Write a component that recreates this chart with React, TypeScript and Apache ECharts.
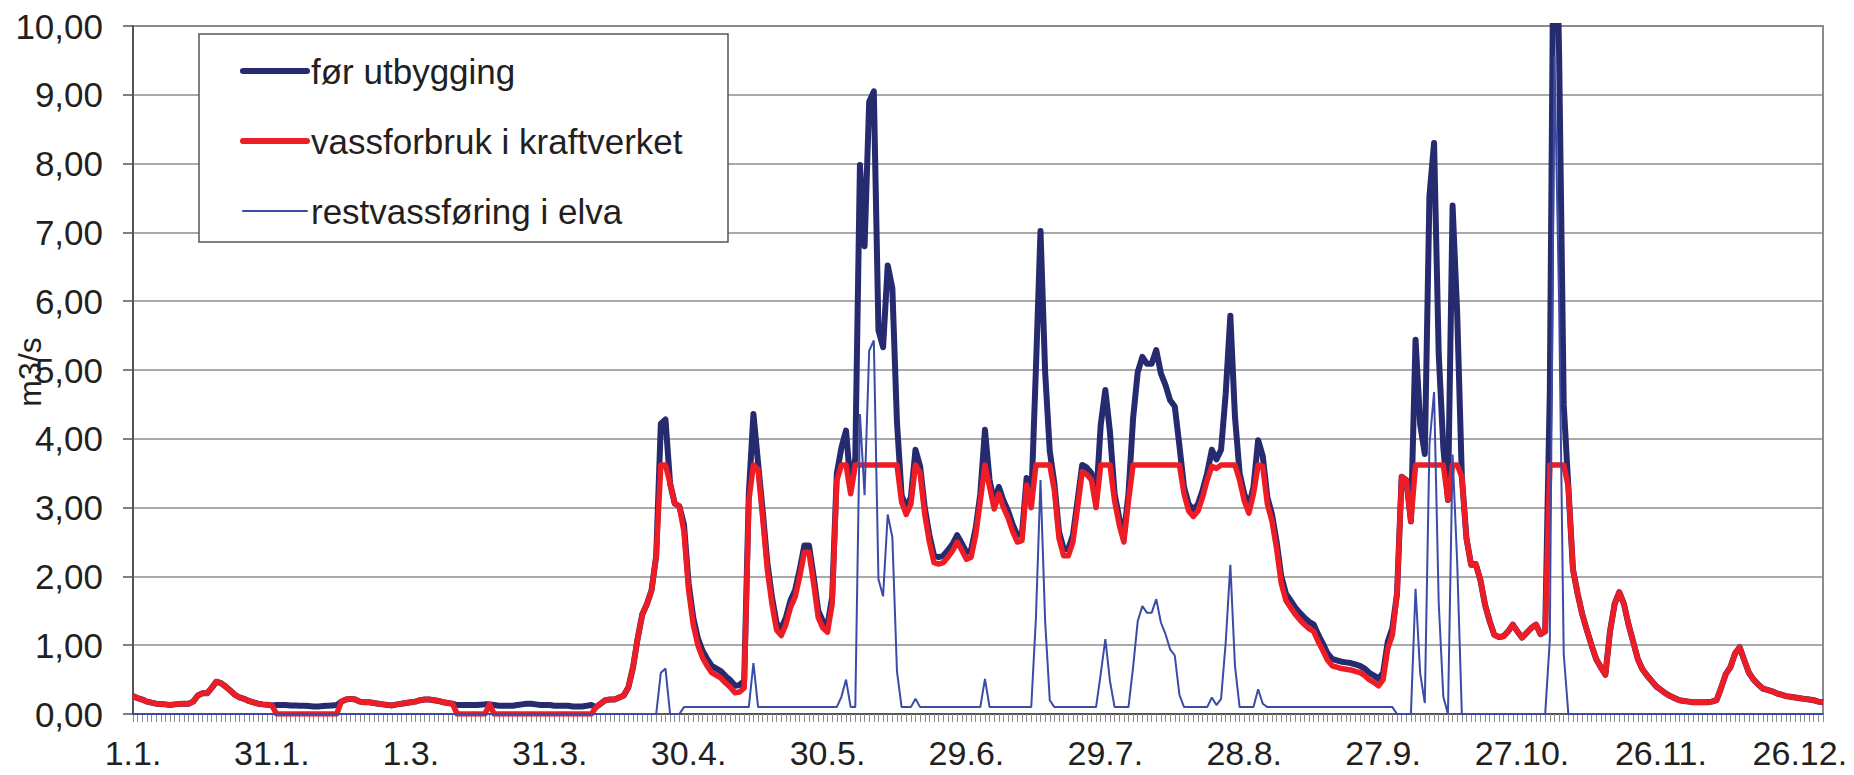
import React, { useEffect, useRef } from "react";
import * as echarts from "echarts";

// Leap-year day labels (1.1. ... 31.12.)
const monthLengths = [31, 29, 31, 30, 31, 30, 31, 31, 30, 31, 30, 31];
const dayLabels: string[] = [];
monthLengths.forEach((n, m) => {
  for (let d = 1; d <= n; d++) dayLabels.push(`${d}.${m + 1}.`);
});

const seriesNames = ["før utbygging", "vassforbruk i kraftverket", "restvassføring i elva"];
const yAxisTitle = "m3/s";
const yTicks = [0, 1, 2, 3, 4, 5, 6, 7, 8, 9, 10];

const forUtbygging = [
  0.26, 0.23, 0.21, 0.18, 0.165, 0.15, 0.145, 0.14, 0.13, 0.14,
  0.145, 0.15, 0.15, 0.18, 0.27, 0.3, 0.3, 0.38, 0.47, 0.45,
  0.4, 0.34, 0.28, 0.24, 0.22, 0.19, 0.17, 0.15, 0.14, 0.135,
  0.125, 0.13, 0.13, 0.13, 0.125, 0.125, 0.12, 0.12, 0.115, 0.11,
  0.11, 0.115, 0.12, 0.125, 0.13, 0.18, 0.21, 0.22, 0.21, 0.18,
  0.17, 0.17, 0.16, 0.15, 0.14, 0.13, 0.125, 0.14, 0.15, 0.16,
  0.17, 0.18, 0.2, 0.21, 0.21, 0.2, 0.19, 0.17, 0.16, 0.15,
  0.13, 0.13, 0.13, 0.13, 0.13, 0.135, 0.14, 0.14, 0.13, 0.12,
  0.12, 0.12, 0.12, 0.13, 0.14, 0.15, 0.15, 0.14, 0.13, 0.13,
  0.13, 0.12, 0.12, 0.12, 0.12, 0.11, 0.11, 0.11, 0.12, 0.13,
  0.1, 0.15, 0.2, 0.21, 0.21, 0.24, 0.27, 0.39, 0.68, 1.1,
  1.45, 1.6, 1.8, 2.3, 4.22, 4.28, 3.35, 3.06, 3.02, 2.75,
  1.9, 1.4, 1.1, 0.92, 0.8, 0.7, 0.66, 0.62, 0.55, 0.49,
  0.41, 0.42, 0.48, 3.2, 4.36, 3.65, 2.95, 2.2, 1.7, 1.32,
  1.24, 1.4, 1.65, 1.8, 2.1, 2.45, 2.45, 2.0, 1.5, 1.35,
  1.29, 1.7, 3.49, 3.87, 4.12, 3.3, 3.72, 7.98, 6.8, 8.9,
  9.05, 5.58, 5.33, 6.52, 6.19, 4.24, 3.18, 3.0, 3.15, 3.84,
  3.6, 3.0, 2.6, 2.3, 2.28, 2.3, 2.38, 2.47, 2.6, 2.48,
  2.35, 2.38, 2.7, 3.2, 4.13, 3.4, 3.08, 3.3, 3.1, 2.95,
  2.75, 2.6, 2.62, 3.43, 3.1, 5.0, 7.02, 4.97, 3.82, 3.35,
  2.65, 2.4, 2.4, 2.6, 3.1, 3.62, 3.58, 3.5, 3.1, 4.2,
  4.71, 4.1, 3.2, 2.85, 2.6, 3.2, 4.3, 4.97, 5.19, 5.09,
  5.09, 5.29, 4.95, 4.78, 4.56, 4.47, 3.9, 3.3, 3.05, 2.97,
  3.05, 3.25, 3.5, 3.84, 3.7, 3.84, 4.66, 5.79, 4.32, 3.5,
  3.2, 3.02, 3.3, 3.98, 3.75, 3.15, 2.9, 2.5, 2.0, 1.75,
  1.65, 1.55, 1.47, 1.4, 1.34, 1.3, 1.15, 1.02, 0.88, 0.8,
  0.78, 0.76, 0.75, 0.74, 0.72, 0.7, 0.66, 0.6, 0.56, 0.51,
  0.6, 1.05, 1.25, 1.75, 3.45, 3.4, 2.8, 5.44, 4.21, 3.78,
  7.53, 8.3, 5.24, 3.87, 3.11, 7.39, 5.81, 3.45, 2.55, 2.17,
  2.18, 1.95, 1.59, 1.35, 1.15, 1.12, 1.13, 1.2, 1.3, 1.2,
  1.11, 1.18, 1.25, 1.3, 1.16, 1.2, 4.7, 13.2, 9.6, 4.5,
  3.3, 2.1, 1.75, 1.45, 1.22, 1.0, 0.8, 0.68, 0.57, 1.2,
  1.6, 1.77, 1.6, 1.3, 1.05, 0.8, 0.65, 0.56, 0.48, 0.4,
  0.35, 0.3, 0.26, 0.23, 0.2, 0.19, 0.18, 0.17, 0.17, 0.17,
  0.17, 0.18, 0.2, 0.38, 0.58, 0.68, 0.88, 0.97, 0.78, 0.6,
  0.5, 0.43, 0.37, 0.35, 0.33, 0.3, 0.28, 0.26, 0.25, 0.24,
  0.23, 0.22, 0.21, 0.2, 0.18, 0.17,
];

const vassforbruk = [
  0.26, 0.23, 0.21, 0.18, 0.165, 0.15, 0.145, 0.14, 0.13, 0.14,
  0.145, 0.15, 0.15, 0.18, 0.27, 0.3, 0.3, 0.38, 0.47, 0.45,
  0.4, 0.34, 0.28, 0.24, 0.22, 0.19, 0.17, 0.15, 0.14, 0.135,
  0.125, 0, 0, 0, 0, 0, 0, 0, 0, 0,
  0, 0, 0, 0, 0, 0.18, 0.21, 0.22, 0.21, 0.18,
  0.17, 0.17, 0.16, 0.15, 0.14, 0.13, 0.125, 0.14, 0.15, 0.16,
  0.17, 0.18, 0.2, 0.21, 0.21, 0.2, 0.19, 0.17, 0.16, 0.15,
  0, 0, 0, 0, 0, 0, 0, 0.14, 0, 0,
  0, 0, 0, 0, 0, 0, 0, 0, 0, 0,
  0, 0, 0, 0, 0, 0, 0, 0, 0, 0,
  0.1, 0.15, 0.2, 0.21, 0.21, 0.24, 0.27, 0.39, 0.68, 1.1,
  1.45, 1.6, 1.8, 2.3, 3.62, 3.62, 3.35, 3.06, 3.02, 2.65,
  1.8, 1.3, 1.0, 0.82, 0.7, 0.6, 0.56, 0.52, 0.45, 0.39,
  0.31, 0.32, 0.38, 3.1, 3.62, 3.55, 2.85, 2.1, 1.6, 1.22,
  1.14, 1.3, 1.55, 1.7, 2.0, 2.35, 2.35, 1.9, 1.4, 1.25,
  1.19, 1.6, 3.39, 3.62, 3.62, 3.2, 3.62, 3.62, 3.62, 3.62,
  3.62, 3.62, 3.62, 3.62, 3.62, 3.62, 3.08, 2.9, 3.05, 3.62,
  3.5, 2.9, 2.5, 2.2, 2.18, 2.2, 2.28, 2.37, 2.5, 2.38,
  2.25, 2.28, 2.6, 3.1, 3.62, 3.3, 2.98, 3.2, 3.0, 2.85,
  2.65, 2.5, 2.52, 3.33, 3.0, 3.62, 3.62, 3.62, 3.62, 3.25,
  2.55, 2.3, 2.3, 2.5, 3.0, 3.52, 3.48, 3.4, 3.0, 3.62,
  3.62, 3.62, 3.1, 2.75, 2.5, 3.1, 3.62, 3.62, 3.62, 3.62,
  3.62, 3.62, 3.62, 3.62, 3.62, 3.62, 3.62, 3.2, 2.95, 2.87,
  2.95, 3.15, 3.4, 3.6, 3.57, 3.62, 3.62, 3.62, 3.62, 3.4,
  3.1, 2.92, 3.2, 3.62, 3.6, 3.05, 2.8, 2.4, 1.9, 1.65,
  1.55, 1.45, 1.37, 1.3, 1.24, 1.2, 1.05, 0.92, 0.78, 0.7,
  0.68, 0.66, 0.65, 0.64, 0.62, 0.6, 0.56, 0.5, 0.46, 0.41,
  0.5, 0.95, 1.15, 1.75, 3.45, 3.4, 2.8, 3.62, 3.62, 3.62,
  3.62, 3.62, 3.62, 3.62, 3.11, 3.62, 3.62, 3.45, 2.55, 2.17,
  2.18, 1.95, 1.59, 1.35, 1.15, 1.12, 1.13, 1.2, 1.3, 1.2,
  1.11, 1.18, 1.25, 1.3, 1.16, 1.2, 3.62, 3.62, 3.62, 3.62,
  3.3, 2.1, 1.75, 1.45, 1.22, 1.0, 0.8, 0.68, 0.57, 1.2,
  1.6, 1.77, 1.6, 1.3, 1.05, 0.8, 0.65, 0.56, 0.48, 0.4,
  0.35, 0.3, 0.26, 0.23, 0.2, 0.19, 0.18, 0.17, 0.17, 0.17,
  0.17, 0.18, 0.2, 0.38, 0.58, 0.68, 0.88, 0.97, 0.78, 0.6,
  0.5, 0.43, 0.37, 0.35, 0.33, 0.3, 0.28, 0.26, 0.25, 0.24,
  0.23, 0.22, 0.21, 0.2, 0.18, 0.17,
];

const restvassforing = [
  0, 0, 0, 0, 0, 0, 0, 0, 0, 0,
  0, 0, 0, 0, 0, 0, 0, 0, 0, 0,
  0, 0, 0, 0, 0, 0, 0, 0, 0, 0,
  0, 0, 0, 0, 0, 0, 0, 0, 0, 0,
  0, 0, 0, 0, 0, 0, 0, 0, 0, 0,
  0, 0, 0, 0, 0, 0, 0, 0, 0, 0,
  0, 0, 0, 0, 0, 0, 0, 0, 0, 0,
  0, 0, 0, 0, 0, 0, 0, 0, 0, 0,
  0, 0, 0, 0, 0, 0, 0, 0, 0, 0,
  0, 0, 0, 0, 0, 0, 0, 0, 0, 0,
  0, 0, 0, 0, 0, 0, 0, 0, 0, 0,
  0, 0, 0, 0, 0.6, 0.66, 0, 0, 0, 0.1,
  0.1, 0.1, 0.1, 0.1, 0.1, 0.1, 0.1, 0.1, 0.1, 0.1,
  0.1, 0.1, 0.1, 0.1, 0.74, 0.1, 0.1, 0.1, 0.1, 0.1,
  0.1, 0.1, 0.1, 0.1, 0.1, 0.1, 0.1, 0.1, 0.1, 0.1,
  0.1, 0.1, 0.1, 0.25, 0.5, 0.1, 0.1, 4.36, 3.18, 5.28,
  5.43, 1.96, 1.71, 2.9, 2.57, 0.62, 0.1, 0.1, 0.1, 0.22,
  0.1, 0.1, 0.1, 0.1, 0.1, 0.1, 0.1, 0.1, 0.1, 0.1,
  0.1, 0.1, 0.1, 0.1, 0.51, 0.1, 0.1, 0.1, 0.1, 0.1,
  0.1, 0.1, 0.1, 0.1, 0.1, 1.38, 3.4, 1.35, 0.2, 0.1,
  0.1, 0.1, 0.1, 0.1, 0.1, 0.1, 0.1, 0.1, 0.1, 0.58,
  1.09, 0.48, 0.1, 0.1, 0.1, 0.1, 0.68, 1.35, 1.57, 1.47,
  1.47, 1.67, 1.33, 1.16, 0.94, 0.85, 0.28, 0.1, 0.1, 0.1,
  0.1, 0.1, 0.1, 0.24, 0.13, 0.22, 1.04, 2.17, 0.7, 0.1,
  0.1, 0.1, 0.1, 0.36, 0.15, 0.1, 0.1, 0.1, 0.1, 0.1,
  0.1, 0.1, 0.1, 0.1, 0.1, 0.1, 0.1, 0.1, 0.1, 0.1,
  0.1, 0.1, 0.1, 0.1, 0.1, 0.1, 0.1, 0.1, 0.1, 0.1,
  0.1, 0.1, 0.1, 0, 0, 0, 0, 1.82, 0.59, 0.16,
  3.91, 4.68, 1.62, 0.25, 0, 3.77, 2.19, 0, 0, 0,
  0, 0, 0, 0, 0, 0, 0, 0, 0, 0,
  0, 0, 0, 0, 0, 0, 1.08, 9.58, 5.98, 0.88,
  0, 0, 0, 0, 0, 0, 0, 0, 0, 0,
  0, 0, 0, 0, 0, 0, 0, 0, 0, 0,
  0, 0, 0, 0, 0, 0, 0, 0, 0, 0,
  0, 0, 0, 0, 0, 0, 0, 0, 0, 0,
  0, 0, 0, 0, 0, 0, 0, 0, 0, 0,
  0, 0, 0, 0, 0, 0,
];

const FONT = "'Liberation Sans', Arial, Helvetica, sans-serif";
const NAVY = "#262a6f";
const RED = "#ee1d25";
const BLUE = "#3c4ba6";
const TEXT = "#231f20";

export default function App() {
  const ref = useRef<HTMLDivElement>(null);

  useEffect(() => {
    if (!ref.current) return;
    const chart = echarts.init(ref.current, undefined, { renderer: "svg" });
    const legendY = [71, 141, 211];
    const legendColors = [NAVY, RED, BLUE];
    const legendWidths = [6, 6, 2];
    const option: any = {
      animation: false,
      backgroundColor: "#ffffff",
      grid: {
        left: 133,
        right: 31,
        top: 26,
        bottom: 61,
        containLabel: false,
        outerBoundsMode: "none",
        show: true,
        borderColor: "#8c8c8c",
        borderWidth: 2,
        backgroundColor: "#ffffff",
      },
      xAxis: {
        type: "category",
        data: dayLabels,
        boundaryGap: false,
        axisLine: { lineStyle: { color: "#555555", width: 2 } },
        axisTick: { show: true, interval: 0, length: 8, lineStyle: { color: "#8c8c8c", width: 1 } },
        axisLabel: {
          interval: 29,
          margin: 22,
          fontFamily: FONT,
          fontSize: 34,
          color: TEXT,
        },
        splitLine: { show: false },
      },
      yAxis: {
        type: "value",
        min: yTicks[0],
        max: yTicks[yTicks.length - 1],
        interval: 1,
        axisLine: { show: true, lineStyle: { color: "#555555", width: 2 } },
        axisTick: { show: true, inside: false, length: 10, lineStyle: { color: "#555555", width: 1.5 } },
        axisLabel: {
          margin: 30,
          fontFamily: FONT,
          fontSize: 35,
          color: TEXT,
          formatter: (v: number) => v.toFixed(2).replace(".", ","),
        },
        splitLine: { show: true, lineStyle: { color: "#8c8c8c", width: 1.5 } },
      },
      series: [
        {
          name: seriesNames[0],
          type: "line",
          data: forUtbygging,
          showSymbol: false,
          symbol: "none",
          lineStyle: { color: NAVY, width: 6, join: "round" },
          itemStyle: { color: NAVY },
          z: 2,
        },
        {
          name: seriesNames[1],
          type: "line",
          data: vassforbruk,
          showSymbol: false,
          symbol: "none",
          lineStyle: { color: RED, width: 5.5, join: "round" },
          itemStyle: { color: RED },
          z: 3,
        },
        {
          name: seriesNames[2],
          type: "line",
          data: restvassforing,
          showSymbol: false,
          symbol: "none",
          lineStyle: { color: BLUE, width: 2 },
          itemStyle: { color: BLUE },
          z: 4,
        },
      ],
      graphic: [
        {
          type: "text",
          x: 30,
          y: 372,
          rotation: Math.PI / 2,
          style: {
            text: yAxisTitle,
            fontFamily: FONT,
            fontSize: 32,
            fill: TEXT,
            align: "center",
            verticalAlign: "middle",
          },
          z: 50,
        },
        {
          type: "rect",
          shape: { x: 199, y: 34, width: 529, height: 208 },
          style: { fill: "#ffffff", stroke: "#555555", lineWidth: 1.5 },
          z: 100,
        },
        ...seriesNames.map((name, i) => ({
          type: "line",
          shape: { x1: 243, y1: legendY[i], x2: 307, y2: legendY[i] },
          style: { stroke: legendColors[i], lineWidth: legendWidths[i], lineCap: "round" },
          z: 101,
        })),
        ...seriesNames.map((name, i) => ({
          type: "text",
          x: 311,
          y: legendY[i],
          style: {
            text: name,
            fontFamily: FONT,
            fontSize: 35,
            fill: TEXT,
            verticalAlign: "middle",
            align: "left",
          },
          z: 101,
        })),
      ],
    };
    chart.setOption(option);
    return () => chart.dispose();
  }, []);

  return (
    <div
      ref={ref}
      style={{ position: "fixed", left: 0, top: 0, width: "1854px", height: "775px", background: "#fff" }}
    />
  );
}
